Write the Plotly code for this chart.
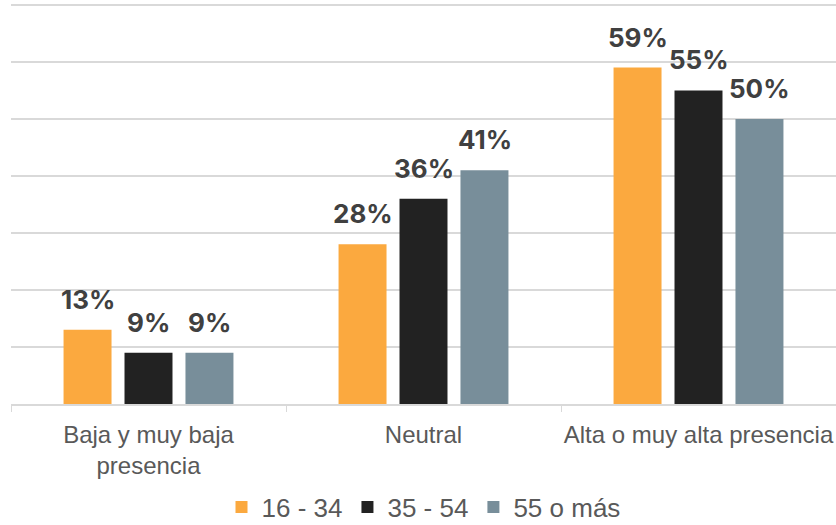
import plotly.graph_objects as go

categories = ["Baja y muy baja<br>presencia", "Neutral", "Alta o muy alta presencia"]
series_names = ["16 - 34", "35 - 54", "55 o más"]
values_16_34 = [13, 28, 59]
values_35_54 = [9, 36, 55]
values_55_mas = [9, 41, 50]
colors = ["#FBA93F", "#222222", "#788E9A"]

series = [values_16_34, values_35_54, values_55_mas]
slot_px = 61  # pixel width of one bar slot in a group

fig = go.Figure()
for j, (name, vals, col) in enumerate(zip(series_names, series, colors)):
    fig.add_trace(go.Bar(
        x=categories, y=vals, name=name, marker=dict(color=col, line=dict(width=0)),
    ))
    for cat, v in zip(categories, vals):
        fig.add_annotation(
            x=cat, y=v, xref="x", yref="y", text=f"{v}%", showarrow=False,
            xanchor="center", yanchor="bottom", xshift=(j - 1) * slot_px, yshift=13,
            font=dict(family="Inter", size=26, color="#404040", weight="bold"),
        )

fig.update_layout(
    width=836, height=525, barmode="group", bargap=0.335, bargroupgap=0.213,
    plot_bgcolor="white", paper_bgcolor="white",
    margin=dict(l=11, r=0, t=2, b=121, autoexpand=False),
    font=dict(family="Liberation Sans", color="#595959"),
    legend=dict(orientation="h", x=0.5, xanchor="center", y=-0.198, yanchor="top",
                font=dict(size=26, color="#595959"), traceorder="normal",
                itemwidth=30),
    xaxis=dict(showline=True, linecolor="#d9d9d9", linewidth=1.5, automargin=False,
               tickangle=0, ticklabelstandoff=8,
               ticks="outside", tickson="boundaries", ticklen=6, tickcolor="#d9d9d9",
               tickfont=dict(size=24, color="#595959")),
    yaxis=dict(range=[0, 70.5], dtick=10, showticklabels=False, showgrid=True,
               gridcolor="#d9d9d9", gridwidth=1.5, zeroline=False, automargin=False),
)
fig.write_html("out.html", config={"displayModeBar": False},
               post_script="document.body.style.margin='0';")
